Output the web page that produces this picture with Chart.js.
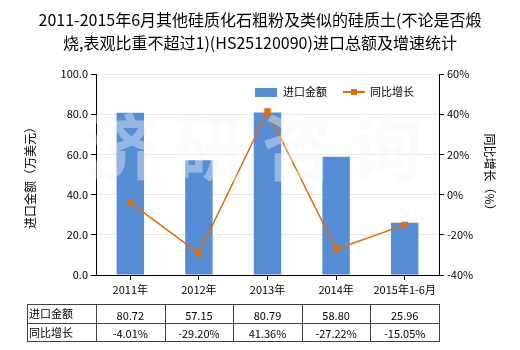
<!DOCTYPE html>
<html>
<head>
<meta charset="utf-8">
<script src="https://cdn.jsdelivr.net/npm/chart.js@4/dist/chart.umd.min.js"></script>
<style>
  body { margin: 0; background: #fff; }
  #wrap { width: 520px; height: 350px; }
</style>
</head>
<body>
<div id="wrap"><canvas id="myChart" width="520" height="350"></canvas></div>
<script>
var FONT = '"Noto Sans CJK SC", "Noto Sans", sans-serif';

var titleLines = [
    "2011-2015年6月其他硅质化石粗粉及类似的硅质土(不论是否煅",
    "烧,表观比重不超过1)(HS25120090)进口总额及增速统计"
];
var categories = ["2011年", "2012年", "2013年", "2014年", "2015年1-6月"];
var importValue = [80.72, 57.15, 80.79, 58.80, 25.96];   // 万美元
var growthRate = [-4.01, -29.20, 41.36, -27.22, -15.05];  // %
var seriesNames = ["进口金额", "同比增长"];
var leftTitle = "进口金额（万美元）";
var rightTitle = "同比增长（%）";
var watermark = ["济", "研", "咨", "询"];

var BAR_COLOR = "#558ed5";
var LINE_COLOR = "#e36c0a";

// 标题、图例、坐标轴标题、水印和底部数据表
var extras = {
    id: "extras",
    afterDatasetsDraw: function(chart) {
        var ctx = chart.ctx;
        ctx.save();
        ctx.fillStyle = "rgba(246,246,246,0.4)";
        ctx.font = "bold 72px " + FONT;
        ctx.textAlign = "center";
        ctx.textBaseline = "middle";
        var xs = [122, 210, 298, 386];
        watermark.forEach(function(ch, i) {
            ctx.fillText(ch, xs[i], 147);
        });
        ctx.restore();
    },
    afterDraw: function(chart) {
        var ctx = chart.ctx;
        var area = chart.chartArea;
        var xScale = chart.scales.x;
        ctx.save();

        // 标题
        ctx.fillStyle = "#000";
        ctx.font = "16px " + FONT;
        ctx.textAlign = "center";
        ctx.textBaseline = "middle";
        ctx.fillText(titleLines[0], 260, 20);
        ctx.fillText(titleLines[1], 260, 43);

        // 图例
        ctx.font = "11px " + FONT;
        ctx.textAlign = "left";
        ctx.fillStyle = BAR_COLOR;
        ctx.fillRect(255, 88, 22, 9);
        ctx.fillStyle = "#000";
        ctx.fillText(seriesNames[0], 283, 92);
        ctx.strokeStyle = LINE_COLOR;
        ctx.lineWidth = 2;
        ctx.beginPath();
        ctx.moveTo(343, 92);
        ctx.lineTo(365, 92);
        ctx.stroke();
        ctx.fillStyle = LINE_COLOR;
        ctx.fillRect(351, 89, 6, 6);
        ctx.fillStyle = "#000";
        ctx.fillText(seriesNames[1], 370, 92);

        // 坐标轴标题
        ctx.font = "12px " + FONT;
        ctx.textAlign = "center";
        ctx.save();
        ctx.translate(30, 175);
        ctx.rotate(-Math.PI / 2);
        ctx.fillText(leftTitle, 0, 0);
        ctx.restore();
        ctx.save();
        ctx.translate(490, 175);
        ctx.rotate(Math.PI / 2);
        ctx.fillText(rightTitle, 0, 0);
        ctx.restore();

        // 数据表
        var top = 304, mid = 323, bottom = 341, left = 27;
        var step = (area.right - area.left) / categories.length;
        ctx.strokeStyle = "#404040";
        ctx.lineWidth = 1;
        ctx.beginPath();
        [top, mid, bottom].forEach(function(y) {
            ctx.moveTo(left, y + 0.5);
            ctx.lineTo(area.right, y + 0.5);
        });
        ctx.moveTo(left + 0.5, top);
        ctx.lineTo(left + 0.5, bottom + 1);
        for (var i = 0; i <= categories.length; i++) {
            var x = Math.round(area.left + step * i) + 0.5;
            ctx.moveTo(x, top);
            ctx.lineTo(x, bottom + 1);
        }
        ctx.stroke();

        ctx.font = "11px " + FONT;
        ctx.textAlign = "left";
        ctx.fillText(seriesNames[0], left + 2, (top + mid) / 2);
        ctx.fillText(seriesNames[1], left + 2, (mid + bottom) / 2 + 1);
        ctx.textAlign = "center";
        categories.forEach(function(c, i) {
            var cx = xScale.getPixelForValue(i);
            ctx.fillText(importValue[i].toFixed(2), cx, (top + mid) / 2 + 2);
            ctx.fillText(growthRate[i].toFixed(2) + "%", cx, (mid + bottom) / 2 + 2);
        });
        ctx.restore();
    }
};

var ctx = document.getElementById("myChart").getContext("2d");

new Chart(ctx, {
    data: {
        labels: categories,
        datasets: [{
            type: "line",
            label: seriesNames[1],
            data: growthRate,
            yAxisID: "y1",
            borderColor: LINE_COLOR,
            backgroundColor: LINE_COLOR,
            borderWidth: 1.5,
            pointStyle: "rect",
            pointRadius: 3.5,
            pointHoverRadius: 3.5,
            tension: 0,
            order: 0
        }, {
            type: "bar",
            label: seriesNames[0],
            data: importValue,
            yAxisID: "y",
            backgroundColor: BAR_COLOR,
            barPercentage: 0.4,
            categoryPercentage: 1,
            order: 1
        }]
    },
    plugins: [extras],
    options: {
        responsive: false,
        animation: false,
        layout: { padding: { top: 74, left: 0, right: 0, bottom: 0 } },
        plugins: {
            legend: { display: false },
            title: { display: false },
            tooltip: { enabled: false }
        },
        scales: {
            x: {
                offset: true,
                grid: {
                    offset: false,
                    drawOnChartArea: false,
                    tickLength: 5,
                    tickColor: "#000"
                },
                border: { color: "#000" },
                ticks: { color: "#000", font: { family: FONT, size: 11 }, padding: 3, maxRotation: 0 },
                afterFit: function(scale) { scale.height = 75; }
            },
            y: {
                position: "left",
                min: 0,
                max: 100,
                ticks: {
                    stepSize: 20,
                    color: "#000",
                    font: { family: FONT, size: 11 },
                    padding: 3,
                    callback: function(v) { return v.toFixed(1); }
                },
                grid: { color: "#ece9de", tickLength: 5, tickColor: "#000" },
                border: { color: "#000" },
                afterFit: function(scale) { scale.width = 96; }
            },
            y1: {
                position: "right",
                min: -40,
                max: 60,
                ticks: {
                    stepSize: 20,
                    color: "#000",
                    font: { family: FONT, size: 11 },
                    padding: 3,
                    callback: function(v) { return v + "%"; }
                },
                grid: { drawOnChartArea: false, tickLength: 5, tickColor: "#000" },
                border: { color: "#000" },
                afterFit: function(scale) { scale.width = 81; }
            }
        }
    }
});
</script>
</body>
</html>
